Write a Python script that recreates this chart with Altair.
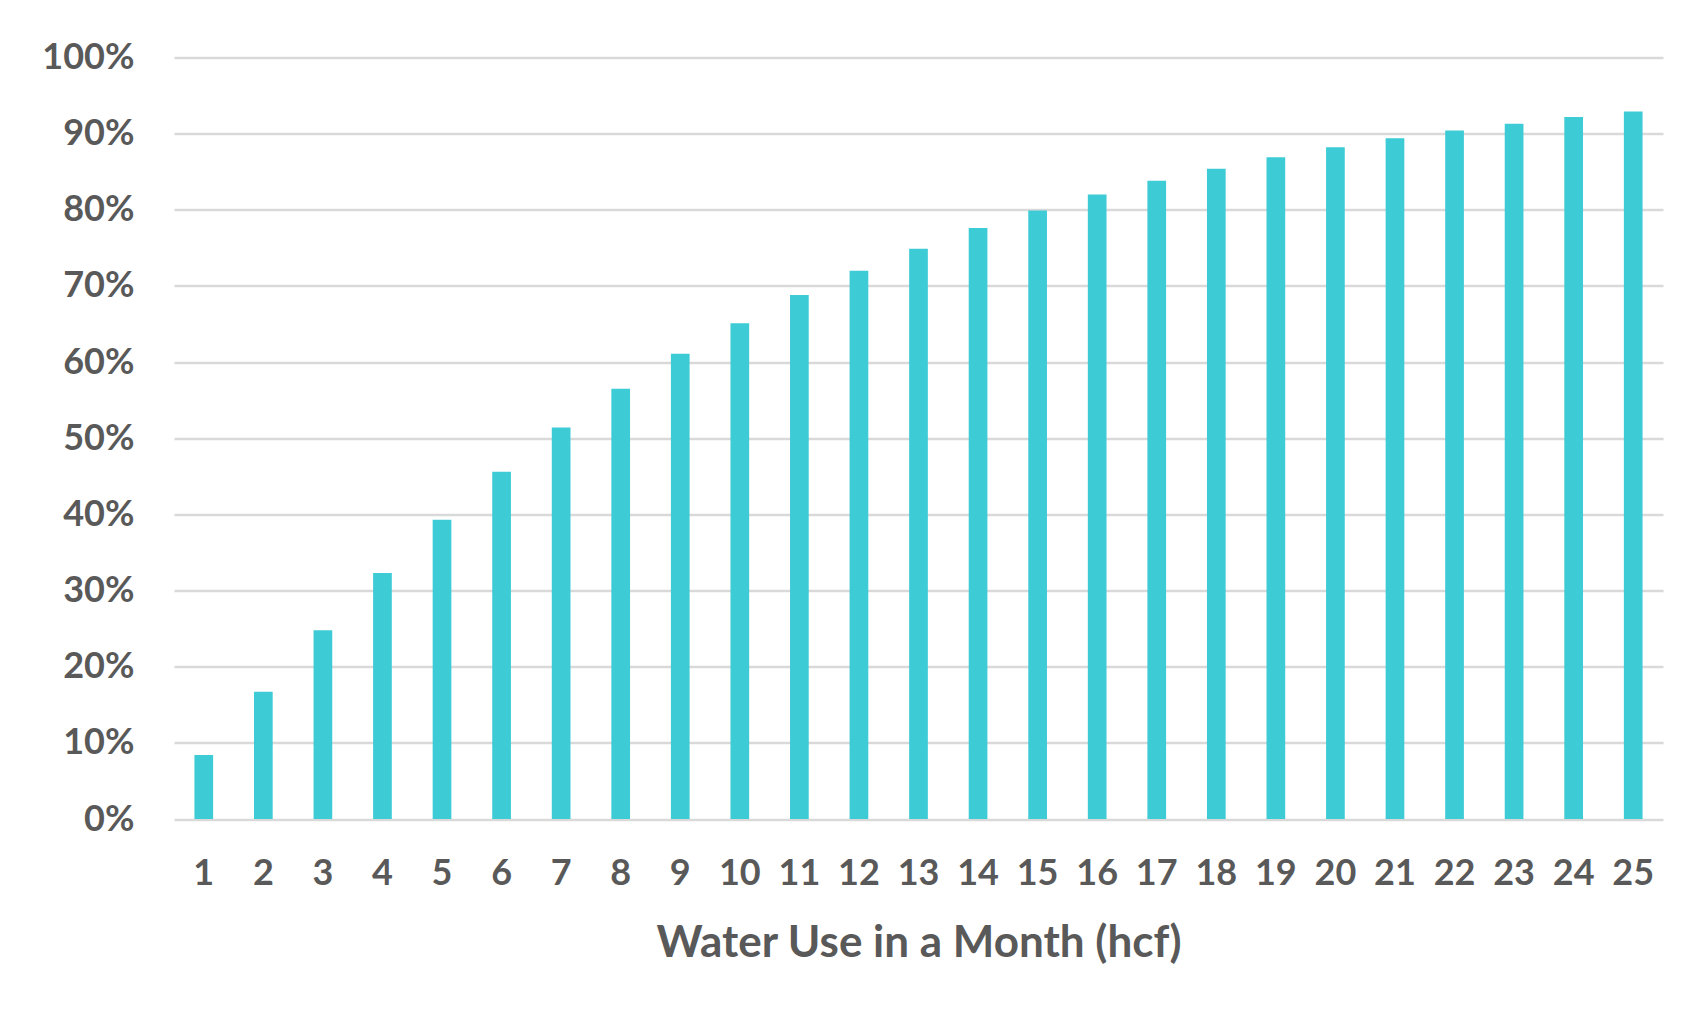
import altair as alt
import pandas as pd

usage = list(range(1, 26))
share = [8.4, 16.7, 24.8, 32.3, 39.3, 45.6, 51.4, 56.5, 61.1, 65.1, 68.8, 72.0, 74.9,
         77.6, 79.9, 82.0, 83.8, 85.4, 86.9, 88.2, 89.4, 90.4, 91.3, 92.2, 92.9]
y_ticks = [0, 10, 20, 30, 40, 50, 60, 70, 80, 90, 100]

df = pd.DataFrame({"usage": usage, "share": [v / 100 for v in share]})

FONT = "Lato"
TXT = "#595959"
GRID = "#D9D9D9"

chart = alt.Chart(df).mark_bar(color="#3DCBD6").encode(
    x=alt.X("usage:O",
            scale=alt.Scale(paddingInner=0.686, paddingOuter=0.343),
            axis=alt.Axis(title="Water Use in a Month (hcf)", labelAngle=0,
                          labelFont=FONT, labelFontSize=36, labelFontWeight="bold",
                          labelColor=TXT, labelPadding=37, ticks=False, tickSize=0,
                          domain=False, titleFont=FONT, titleFontSize=44,
                          titleFontWeight="bold", titleColor=TXT, titlePadding=30)),
    y=alt.Y("share:Q",
            scale=alt.Scale(domain=[0, 1], nice=False),
            axis=alt.Axis(title=None, values=[v / 100 for v in y_ticks], format=".0%",
                          labelFont=FONT, labelFontSize=36, labelFontWeight="bold",
                          labelColor=TXT, labelPadding=40, ticks=False, tickSize=0,
                          domain=False, grid=True, gridColor=GRID, gridWidth=2.7)),
).properties(
    width=1489,
    height=761.5,
    autosize=alt.AutoSizeParams(type="none"),
    padding={"left": 166, "top": 49.5, "right": 22, "bottom": 190},
    background="white",
).configure_view(strokeWidth=0, stroke="transparent")

chart.save("out.html", embed_options={"renderer": "svg", "actions": False})
